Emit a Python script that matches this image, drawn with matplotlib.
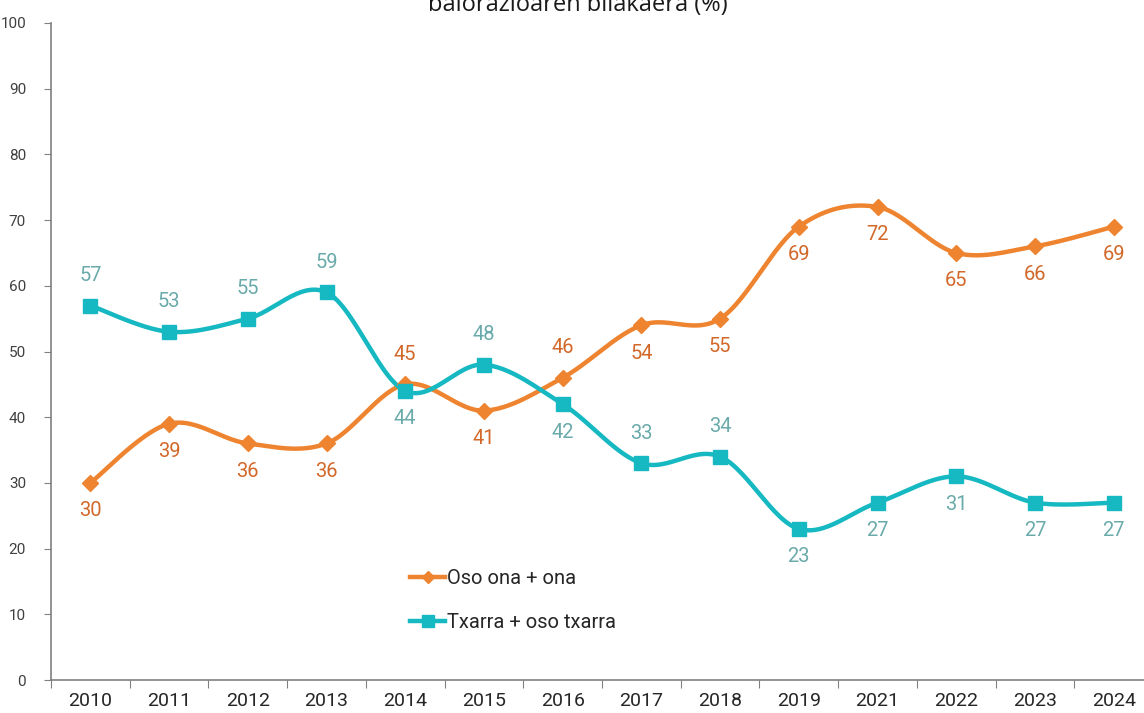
import numpy as np
import matplotlib
matplotlib.use("Agg")
import matplotlib.pyplot as plt
from matplotlib.lines import Line2D

years = ["2010", "2011", "2012", "2013", "2014", "2015", "2016", "2017",
         "2018", "2019", "2021", "2022", "2023", "2024"]
ona = [30, 39, 36, 36, 45, 41, 46, 54, 55, 69, 72, 65, 66, 69]
txarra = [57, 53, 55, 59, 44, 48, 42, 33, 34, 23, 27, 31, 27, 27]
ona_label_pos = ["b", "b", "b", "b", "a", "b", "a", "b", "b", "b", "b", "b", "b", "b"]
txarra_label_pos = ["a", "a", "a", "a", "b", "a", "b", "a", "a", "b", "b", "b", "b", "b"]
series_names = ["Oso ona + ona", "Txarra + oso txarra"]
title = "balorazioaren bilakaera (%)"

plt.rcParams['font.family'] = ['Roboto', 'DejaVu Sans']

ORANGE = "#EE8430"
ORANGE_TXT = "#D2682A"
TEAL = "#16B8C2"
TEAL_TXT = "#6AAAAA"
GRAY = "#808080"
TXT = "#404040"


def smooth(x, y, n=30):
    x = np.asarray(x, float)
    y = np.asarray(y, float)
    xs, ys = [], []
    m = len(x)
    for i in range(m - 1):
        p0 = np.array([x[max(i - 1, 0)], y[max(i - 1, 0)]])
        p1 = np.array([x[i], y[i]])
        p2 = np.array([x[i + 1], y[i + 1]])
        p3 = np.array([x[min(i + 2, m - 1)], y[min(i + 2, m - 1)]])
        c1 = p1 + (p2 - p0) / 6.0
        c2 = p2 - (p3 - p1) / 6.0
        t = np.linspace(0, 1, n)[:, None]
        pts = ((1 - t) ** 3) * p1 + 3 * ((1 - t) ** 2) * t * c1 + 3 * (1 - t) * t ** 2 * c2 + t ** 3 * p2
        xs.extend(pts[:, 0])
        ys.extend(pts[:, 1])
    return np.array(xs), np.array(ys)


fig = plt.figure(figsize=(11.44, 7.13), dpi=100)
W, H = 1144, 713
ax = fig.add_axes([51 / W, (H - 680) / H, 1102 / W, 657 / H])
ax.set_xlim(-0.5, 13.5)
ax.set_ylim(0, 100)

x = np.arange(len(years))
for vals, color, marker, ms, tcol, pos in [
    (ona, ORANGE, "D", 8.5, ORANGE_TXT, ona_label_pos),
    (txarra, TEAL, "s", 9.5, TEAL_TXT, txarra_label_pos),
]:
    sx, sy = smooth(x, vals)
    ax.plot(sx, sy, color=color, lw=3.2, solid_capstyle="round", zorder=3, clip_on=False)
    ax.plot(x, vals, ls="none", marker=marker, ms=ms, color=color, zorder=4, clip_on=False)
    for xi, v, p in zip(x, vals, pos):
        off = 30 if p == "a" else -28
        ax.annotate(str(v), (xi, v), xytext=(0, off), textcoords="offset pixels",
                    ha="center", va="center", fontsize=14.5, color=tcol, zorder=5)

for s in ["top", "right"]:
    ax.spines[s].set_visible(False)
for s in ["left", "bottom"]:
    ax.spines[s].set_color(GRAY)
    ax.spines[s].set_linewidth(1.2)

ax.set_yticks(np.arange(0, 101, 10))
ax.tick_params(axis="y", direction="out", length=5, color=GRAY, labelsize=11,
               labelcolor=TXT, pad=13)
ax.set_xticks(np.arange(-0.5, 13.6, 1.0))
ax.set_xticklabels([])
ax.tick_params(axis="x", which="major", direction="out", length=6, color=GRAY)
ax.set_xticks(x, minor=True)
ax.set_xticklabels(years, minor=True)
ax.tick_params(axis="x", which="minor", length=0, labelsize=14, labelcolor="#262626", pad=9)

handles = [
    Line2D([], [], color=ORANGE, lw=3.2, marker="D", ms=6),
    Line2D([], [], color=TEAL, lw=3.2, marker="s", ms=8),
]
leg = ax.legend(handles, series_names, loc="upper left", bbox_to_anchor=((410 - 51) / 1102, (680 - 569) / 657),
                frameon=False, fontsize=14.5, handlelength=1.75, handletextpad=0.1,
                labelspacing=1.25, borderaxespad=0, borderpad=0)
for t in leg.get_texts():
    t.set_color("#262626")

fig.text(578 / W, 1 - 11 / H, title, ha="center", va="baseline", fontsize=17,
         color="#1a1a1a", family=["Open Sans", "DejaVu Sans"])

fig.savefig("out.png", dpi=100)
